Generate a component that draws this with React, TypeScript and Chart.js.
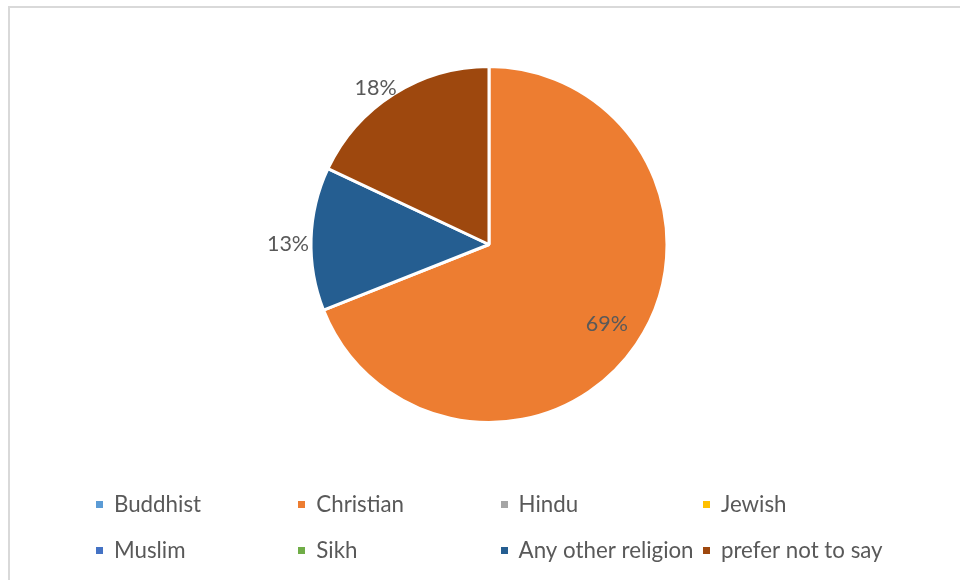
import React, { useEffect, useRef } from "react";
import { Chart, registerables } from "chart.js";

Chart.register(...registerables);

const categories = [
  "Buddhist",
  "Christian",
  "Hindu",
  "Jewish",
  "Muslim",
  "Sikh",
  "Any other religion",
  "prefer not to say",
];
const shares = [0, 69, 0, 0, 0, 0, 13, 18];
const sliceColors = [
  "#5B9BD5",
  "#ED7D31",
  "#A5A5A5",
  "#FFC000",
  "#4472C4",
  "#70AD47",
  "#255E91",
  "#9E480E",
];

const FONT = "Lato, 'Open Sans', sans-serif";
const TEXT_COLOR = "#595959";

const labelPlugin = {
  id: "pctLabels",
  afterDatasetsDraw(chart: any) {
    const ctx = chart.ctx;
    const meta = chart.getDatasetMeta(0);
    const data = chart.data.datasets[0].data as number[];
    const total = data.reduce((a, b) => a + b, 0);
    ctx.save();
    ctx.font = `21.5px ${FONT}`;
    ctx.fillStyle = TEXT_COLOR;
    ctx.textAlign = "center";
    ctx.textBaseline = "middle";
    meta.data.forEach((arc: any, i: number) => {
      const v = data[i];
      if (!v) return;
      const p = arc.getProps(["x", "y", "startAngle", "endAngle", "outerRadius"], true);
      const mid = (p.startAngle + p.endAngle) / 2;
      const dx = Math.cos(mid);
      const dy = Math.sin(mid);
      const txt = Math.round((v / total) * 100) + "%";
      const frac = v / total;
      let cx: number, cy: number;
      if (frac > 0.3) {
        cx = p.x + dx * p.outerRadius * 0.8;
        cy = p.y + dy * p.outerRadius * 0.8;
      } else {
        const w = ctx.measureText(txt).width;
        const hw = w / 2;
        const hh = 10;
        const px = p.x + dx * (p.outerRadius + 2);
        const py = p.y + dy * (p.outerRadius + 2);
        const clamp = (n: number) => Math.max(-1, Math.min(1, n));
        cx = px + hw * clamp(dx * 1.5);
        cy = py + hh * clamp(dy * 1.5) + 6;
      }
      ctx.fillText(txt, cx, cy);
    });
    ctx.restore();
  },
};

const legendPlugin = {
  id: "gridLegend",
  afterDraw(chart: any) {
    const ctx = chart.ctx;
    const labels = chart.data.labels as string[];
    const colors = chart.data.datasets[0].backgroundColor as string[];
    const colX0 = 96;
    const colW = 202.3;
    const rowY0 = 512;
    const rowH = 45.5;
    ctx.save();
    ctx.font = `22.3px ${FONT}`;
    ctx.textAlign = "left";
    ctx.textBaseline = "alphabetic";
    labels.forEach((lab, i) => {
      const col = i % 4;
      const row = Math.floor(i / 4);
      const x = colX0 + col * colW;
      const y = rowY0 + row * rowH;
      ctx.fillStyle = colors[i];
      ctx.fillRect(Math.round(x), Math.round(y - 11), 7, 7);
      ctx.fillStyle = TEXT_COLOR;
      ctx.fillText(lab, x + 18, y);
    });
    ctx.restore();
  },
};

export default function App() {
  const ref = useRef<HTMLCanvasElement | null>(null);

  useEffect(() => {
    if (!ref.current) return;
    const chart = new Chart(ref.current, {
      type: "pie",
      data: {
        labels: categories,
        datasets: [
          {
            data: shares,
            backgroundColor: sliceColors,
            borderColor: "#ffffff",
            borderWidth: 3,
          },
        ],
      },
      options: {
        responsive: false,
        animation: false,
        events: [],
        layout: { padding: { top: 65, bottom: 156, left: 18, right: 0 } },
        plugins: {
          legend: { display: false },
          tooltip: { enabled: false },
          title: { display: false },
        },
      },
      plugins: [labelPlugin, legendPlugin],
    });
    return () => chart.destroy();
  }, []);

  return (
    <div
      style={{
        position: "fixed",
        left: 0,
        top: 0,
        width: 960,
        height: 580,
        overflow: "hidden",
        background: "#ffffff",
      }}
    >
      <div
        style={{
          position: "absolute",
          left: 8,
          top: 6,
          width: 1000,
          height: 1000,
          borderLeft: "2px solid #d9d9d9",
          borderTop: "2px solid #d9d9d9",
        }}
      />
      <canvas
        ref={ref}
        width={960}
        height={580}
        style={{ position: "absolute", left: 0, top: 0, display: "block" }}
      />
    </div>
  );
}
